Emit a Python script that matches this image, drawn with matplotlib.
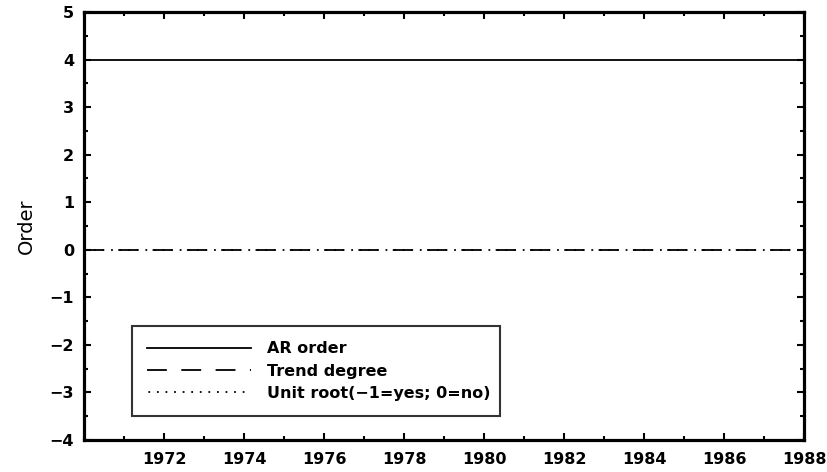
import matplotlib
matplotlib.use("Agg")
import matplotlib.pyplot as plt
from matplotlib.ticker import MultipleLocator

years = [1970, 1971, 1972, 1973, 1974, 1975, 1976, 1977, 1978, 1979,
         1980, 1981, 1982, 1983, 1984, 1985, 1986, 1987, 1988]
ar_order = [4] * len(years)
trend_degree = [0] * len(years)
unit_root = [0] * len(years)
labels = ["AR order", "Trend degree", "Unit root(\u22121=yes; 0=no)"]

plt.rcParams['font.family'] = ['DejaVu Sans']
plt.rcParams['font.weight'] = 'bold'
fig = plt.figure(figsize=(8.28, 4.72), dpi=100)
ax = fig.add_axes([0.1014, 0.0678, 0.8696, 0.9068])

ax.plot(years, ar_order, color='black', lw=1.3, label=labels[0])
ax.plot(years, trend_degree, color='black', lw=1.3, linestyle=(0, (11, 8)), label=labels[1])
ax.plot(years, unit_root, color='black', lw=1.3, linestyle=(4, (1, 3.75)), label=labels[2])

ax.set_xlim(1970, 1988)
ax.set_ylim(-4, 5)
ax.xaxis.set_minor_locator(MultipleLocator(1))
ax.yaxis.set_minor_locator(MultipleLocator(0.5))
ax.set_xticks(range(1972, 1989, 2))
ax.set_yticks(range(-4, 6))
ax.set_yticklabels([str(v).replace('-', '\u2212') for v in range(-4, 6)])

ax.tick_params(which='both', direction='in', top=True, right=True, width=1.5, labelsize=11.5)
ax.tick_params(which='major', length=5)
ax.tick_params(which='minor', length=3)
ax.tick_params(axis='x', pad=9)
ax.tick_params(axis='y', pad=7)
for s in ax.spines.values():
    s.set_linewidth(2.3)

ax.set_ylabel("Order", fontsize=14, fontweight='normal', labelpad=10)

leg = ax.legend(loc='lower left', bbox_to_anchor=(0.0667, 0.056, 0.511, 0.21),
                mode='expand', prop={'size': 11.5, 'weight': 'bold'},
                handlelength=6.5, handletextpad=1.0,
                labelspacing=0.45, borderpad=0.95, fancybox=False, frameon=True,
                borderaxespad=0)
leg.get_frame().set_edgecolor('black')
leg.get_frame().set_linewidth(1.5)

fig.savefig("out.png", dpi=100)
